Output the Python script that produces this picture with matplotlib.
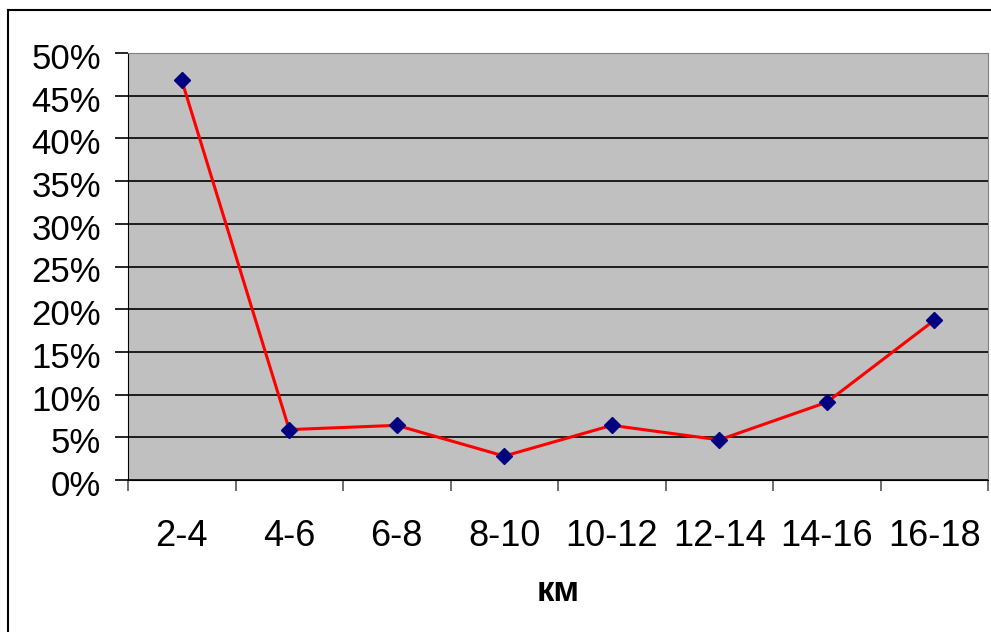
import matplotlib.pyplot as plt
from matplotlib.lines import Line2D
from matplotlib.transforms import ScaledTranslation

plt.rcParams['font.family'] = ['Liberation Sans', 'DejaVu Sans']

# Данные графика
categories = ["2-4", "4-6", "6-8", "8-10", "10-12", "12-14", "14-16", "16-18"]
values = [46.8, 5.9, 6.4, 2.8, 6.4, 4.7, 9.1, 18.7]
yticks = [0, 5, 10, 15, 20, 25, 30, 35, 40, 45, 50]
xlabel = "км"

fig = plt.figure(figsize=(9.91, 6.32), dpi=100)
ax = fig.add_axes([128 / 991, 1 - 480 / 632, (988 - 128) / 991, (480 - 53) / 632])

# Рамка диаграммы
fig.add_artist(Line2D([8 / 991, 8 / 991], [0, 1 - 10 / 632], transform=fig.transFigure,
                      color="black", lw=1.5))
fig.add_artist(Line2D([8 / 991, 1], [1 - 10 / 632, 1 - 10 / 632], transform=fig.transFigure,
                      color="black", lw=1.5))

ax.set_facecolor("#C0C0C0")
x = [i + 0.5 for i in range(len(categories))]
ax.plot(x, values, color="red", lw=2.2, zorder=3)
ax.plot(x, values, ls="none", marker="D", ms=8.5, color="#000080", zorder=4)

ax.set_xlim(0, len(categories))
ax.set_ylim(0, 50)
ax.set_yticks(yticks)
ax.set_yticklabels([f"{v}%" for v in yticks])
ax.set_xticks(range(len(categories) + 1))
ax.set_xticklabels([])
ax.set_xticks(x, minor=True)
ax.set_xticklabels(categories, minor=True)
ax.tick_params(axis="x", which="minor", length=0, pad=28, labelsize=26)
ax.tick_params(axis="x", which="major", length=8, width=1.2, color="#555555")
ax.tick_params(axis="y", length=9.5, width=1.2, labelsize=25, pad=10)

# подписи оси Y чуть ниже линий
offset = ScaledTranslation(0, -3 / 100, fig.dpi_scale_trans)
for lbl in ax.get_yticklabels():
    lbl.set_transform(lbl.get_transform() + offset)

ax.grid(axis="y", color="black", lw=1.2)
ax.set_axisbelow(True)
for side in ["top", "right"]:
    ax.spines[side].set_color("#808080")
ax.spines["left"].set_color("black")
ax.spines["bottom"].set_color("black")

ax.set_xlabel(xlabel, fontsize=25, fontweight="bold", labelpad=15)

plt.savefig("out.png", dpi=100)
plt.close()
